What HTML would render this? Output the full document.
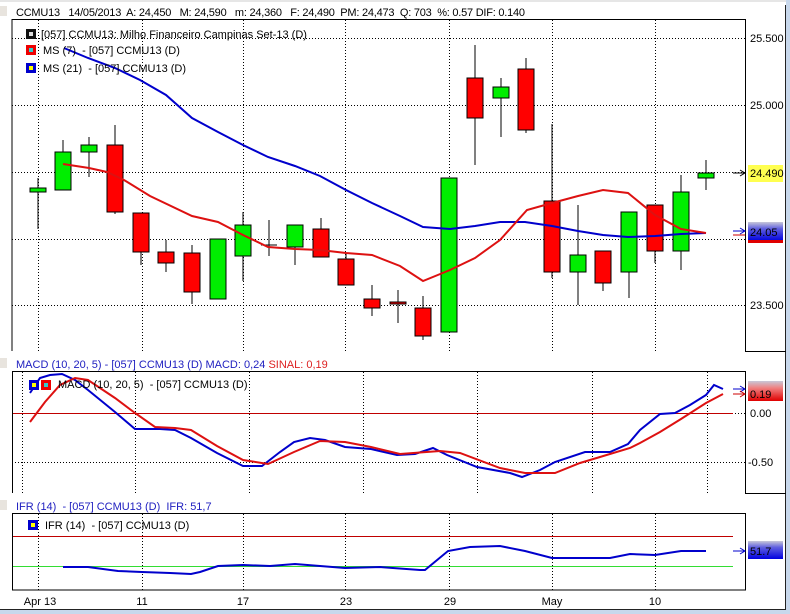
<!DOCTYPE html>
<html><head><meta charset="utf-8"><style>
html,body{margin:0;padding:0;background:#fff;}
svg{display:block;font-family:"Liberation Sans",sans-serif;}
</style></head><body>
<svg width="790" height="614" viewBox="0 0 790 614" xmlns="http://www.w3.org/2000/svg">
<defs>
<linearGradient id="bg" x1="0" y1="0" x2="0" y2="1"><stop offset="0" stop-color="#c8c8d8"/><stop offset="0.35" stop-color="#6060e0"/><stop offset="1" stop-color="#0000e0"/></linearGradient>
<linearGradient id="rg" x1="0" y1="0" x2="0" y2="1"><stop offset="0" stop-color="#c8c8d8"/><stop offset="0.35" stop-color="#f08080"/><stop offset="1" stop-color="#e00000"/></linearGradient>
</defs>
<rect width="790" height="614" fill="#fff"/>
<line x1="0" y1="1" x2="786" y2="1" stroke="#ccc"/>
<rect x="786" y="0" width="4" height="614" fill="#c8d8ec"/>
<line x1="785.5" y1="5" x2="785.5" y2="610" stroke="#222"/>
<rect x="0" y="610" width="790" height="4" fill="#c8d8ec"/>
<line x1="0" y1="609.5" x2="786" y2="609.5" stroke="#222"/>
<rect x="0" y="6" width="7" height="10" fill="#e8e4de"/>
<text x="16" y="16" font-size="11" fill="#000" style="white-space:pre" textLength="509" lengthAdjust="spacing">CCMU13   14/05/2013  A: 24,450   M: 24,590   m: 24,360   F: 24,490  PM: 24,473  Q: 703  %: 0.57 DIF: 0.140</text>

<!-- main panel -->
<g stroke="#000" stroke-dasharray="1,2" stroke-width="1">
<line x1="12" y1="38.5" x2="745" y2="38.5"/><line x1="12" y1="105.5" x2="745" y2="105.5"/><line x1="12" y1="172.5" x2="745" y2="172.5"/><line x1="12" y1="239.5" x2="745" y2="239.5"/><line x1="12" y1="305.5" x2="745" y2="305.5"/>
<line x1="38.5" y1="20" x2="38.5" y2="351"/><line x1="142.5" y1="20" x2="142.5" y2="351"/><line x1="243.5" y1="20" x2="243.5" y2="351"/><line x1="345.5" y1="20" x2="345.5" y2="351"/><line x1="449.5" y1="20" x2="449.5" y2="351"/><line x1="552.5" y1="20" x2="552.5" y2="351"/><line x1="655.5" y1="20" x2="655.5" y2="351"/>
</g>
<polyline fill="none" stroke="#000" points="12,351 12,19.5 745.5,19.5 745.5,351.5 786,351.5"/>
<g font-size="11" fill="#000">
<text x="750" y="42">25.500</text><text x="750" y="109">25.000</text><text x="750" y="309">23.500</text>
</g>
<rect x="748" y="165" width="35" height="17" fill="#ffff50"/>
<text x="750" y="177" font-size="11">24.490</text>
<rect x="748" y="222" width="35" height="19" fill="url(#bg)"/>
<rect x="748" y="240" width="35" height="3" fill="#e00000"/>
<text x="750" y="236" font-size="11" fill="#000">24.05</text>
<g stroke-width="1" fill="none"><path d="M733,173 h12 M740,170 l5,3 l-5,3" stroke="#000"/><path d="M733,231 h12 M740,228 l5,3 l-5,3" stroke="#00c"/><path d="M733,235 h12" stroke="#c00"/></g>

<!-- candles -->
<g stroke="#000" stroke-width="1">
<line x1="38" y1="178" x2="38" y2="229"/><rect x="30" y="188" width="16" height="4" fill="#00ee00"/>
<line x1="63" y1="140" x2="63" y2="190"/><rect x="55" y="152" width="16" height="38" fill="#00ee00"/>
<line x1="89" y1="137" x2="89" y2="177"/><rect x="81" y="145" width="16" height="7" fill="#00ee00"/>
<line x1="115" y1="125" x2="115" y2="214"/><rect x="107" y="145" width="16" height="67" fill="#ff0000"/>
<line x1="141" y1="213" x2="141" y2="265"/><rect x="133" y="213" width="16" height="39" fill="#ff0000"/>
<line x1="166" y1="240" x2="166" y2="272"/><rect x="158" y="252" width="16" height="11" fill="#ff0000"/>
<line x1="192" y1="245" x2="192" y2="304"/><rect x="184" y="253" width="16" height="39" fill="#ff0000"/>
<line x1="218" y1="239" x2="218" y2="299"/><rect x="210" y="239" width="16" height="60" fill="#00ee00"/>
<line x1="243" y1="212" x2="243" y2="281"/><rect x="235" y="225" width="16" height="31" fill="#00ee00"/>
<line x1="269" y1="220" x2="269" y2="256"/><line x1="261" y1="245" x2="277" y2="245"/>
<line x1="295" y1="225" x2="295" y2="265"/><rect x="287" y="225" width="16" height="22" fill="#00ee00"/>
<line x1="321" y1="218" x2="321" y2="257"/><rect x="313" y="229" width="16" height="28" fill="#ff0000"/>
<line x1="346" y1="253" x2="346" y2="285"/><rect x="338" y="259" width="16" height="26" fill="#ff0000"/>
<line x1="372" y1="285" x2="372" y2="316"/><rect x="364" y="299" width="16" height="9" fill="#ff0000"/>
<line x1="398" y1="290" x2="398" y2="323"/><rect x="390" y="302" width="16" height="2" fill="#ff0000"/>
<line x1="423" y1="296" x2="423" y2="340"/><rect x="415" y="308" width="16" height="28" fill="#ff0000"/>
<line x1="449" y1="178" x2="449" y2="332"/><rect x="441" y="178" width="16" height="154" fill="#00ee00"/>
<line x1="475" y1="45" x2="475" y2="165"/><rect x="467" y="78" width="16" height="40" fill="#ff0000"/>
<line x1="501" y1="78" x2="501" y2="137"/><rect x="493" y="87" width="16" height="11" fill="#00ee00"/>
<line x1="526" y1="58" x2="526" y2="133"/><rect x="518" y="69" width="16" height="61" fill="#ff0000"/>
<line x1="552" y1="124" x2="552" y2="278"/><rect x="544" y="201" width="16" height="71" fill="#ff0000"/>
<line x1="578" y1="205" x2="578" y2="305"/><rect x="570" y="255" width="16" height="17" fill="#00ee00"/>
<line x1="603" y1="251" x2="603" y2="291"/><rect x="595" y="251" width="16" height="32" fill="#ff0000"/>
<line x1="629" y1="212" x2="629" y2="298"/><rect x="621" y="212" width="16" height="60" fill="#00ee00"/>
<line x1="655" y1="205" x2="655" y2="263"/><rect x="647" y="205" width="16" height="46" fill="#ff0000"/>
<line x1="681" y1="175" x2="681" y2="270"/><rect x="673" y="192" width="16" height="59" fill="#00ee00"/>
<line x1="706" y1="160" x2="706" y2="190"/><rect x="698" y="173" width="16" height="5" fill="#00ee00"/>
</g>
<polyline fill="none" stroke="#0000cc" stroke-width="2" points="64,48 88,58 115,68 140,80 166,95 192,118 218,132 243,145 268,157 295,166 320,176 346,190 372,203 400,216 423,227 450,229 475,226 500,222 525,222 552,226 578,231 603,235 628,237 655,236 681,234 706,233"/>
<polyline fill="none" stroke="#dd1111" stroke-width="2" points="63,164 89,168 107,172 124,180 150,196 192,216 218,222 243,235 268,247 295,249 320,250 346,253 372,255 400,266 423,281 450,270 475,258 500,240 527,210 552,203 578,196 603,190 628,193 655,215 681,229 706,233"/>

<rect x="26" y="29" width="10" height="10" fill="#111"/><rect x="29" y="32" width="4" height="4" fill="#ddd"/>
<text x="41" y="38" font-size="11" fill="#000">[057] CCMU13: Milho Financeiro Campinas Set-13 (D)</text>
<rect x="26" y="45" width="10" height="10" fill="#e00"/><rect x="29" y="48" width="4" height="4" fill="#3cc"/>
<text x="43" y="54" font-size="11" fill="#000" style="white-space:pre">MS (7)  - [057] CCMU13 (D)</text>
<rect x="26" y="63" width="10" height="10" fill="#00c"/><rect x="29" y="66" width="4" height="4" fill="#ff0"/>
<text x="43" y="72" font-size="11" fill="#000" style="white-space:pre">MS (21)  - [057] CCMU13 (D)</text>

<!-- MACD panel -->
<rect x="0" y="358" width="7" height="10" fill="#e8e4de"/>
<text x="16" y="368" font-size="11" fill="#2020c0">MACD (10, 20, 5)  - [057] CCMU13 (D)  MACD: 0,24   <tspan fill="#dd2222">SINAL: 0,19</tspan></text>
<g stroke="#000" stroke-dasharray="1,2">
<line x1="12" y1="462.5" x2="745" y2="462.5"/>
<line x1="22.5" y1="372" x2="22.5" y2="493"/><line x1="135.5" y1="372" x2="135.5" y2="493"/><line x1="249.5" y1="372" x2="249.5" y2="493"/><line x1="363.5" y1="372" x2="363.5" y2="493"/><line x1="477.5" y1="372" x2="477.5" y2="493"/><line x1="592.5" y1="372" x2="592.5" y2="493"/><line x1="707.5" y1="372" x2="707.5" y2="493"/>
<line x1="735" y1="413.5" x2="745" y2="413.5"/>
</g>
<line x1="12" y1="413.5" x2="733" y2="413.5" stroke="#c00000"/>
<polyline fill="none" stroke="#000" points="12.5,493 12.5,371.5 745.5,371.5 745.5,493.5 786,493.5"/>
<text x="750" y="417" font-size="11">0.00</text><text x="748" y="466" font-size="11">-0.50</text>
<rect x="748" y="381" width="35" height="20" fill="url(#rg)"/>
<text x="750" y="398" font-size="11">0.19</text>
<g fill="none"><path d="M733,389 h12 M740,386 l5,3 l-5,3" stroke="#00c"/><path d="M733,394 h12 M740,391 l5,3 l-5,3" stroke="#c00"/></g>
<polyline fill="none" stroke="#0000cc" stroke-width="2" points="30,393 40,378 50,375 62,374 75,380 88,390 115,412 135,429 160,429 175,430 191,438 217,453 243,466 262,466 280,452 294,442 310,438 325,440 345,447 371,449 397,455 415,454 433,448 447,455 477,467 510,473 522,477 540,470 555,462 585,452 610,452 628,444 640,430 660,414 675,413 690,405 706,395 714,385 723,389"/>
<polyline fill="none" stroke="#dd1111" stroke-width="2" points="30,422 45,402 60,385 75,378 88,380 100,388 115,398 135,413 155,427 175,428 191,430 217,446 243,460 268,464 294,452 320,441 345,442 371,447 400,454 440,451 460,453 500,468 525,473 555,473 580,463 600,457 630,448 640,443 660,432 681,419 706,403 723,394"/>
<rect x="29" y="380" width="10" height="10" fill="#00c"/><rect x="32" y="383" width="4" height="4" fill="#ff0"/>
<rect x="41" y="380" width="10" height="10" fill="#e00"/><rect x="44" y="383" width="4" height="4" fill="#3cc"/>
<text x="58" y="388" font-size="11" fill="#000" style="white-space:pre">MACD (10, 20, 5)  - [057] CCMU13 (D)</text>

<!-- IFR panel -->
<rect x="0" y="500" width="7" height="10" fill="#e8e4de"/>
<text x="16" y="510" font-size="11" fill="#2020c0" style="white-space:pre">IFR (14)  - [057] CCMU13 (D)  IFR: 51,7</text>
<g stroke="#000" stroke-dasharray="1,2">
<line x1="38.5" y1="514" x2="38.5" y2="590"/><line x1="142.5" y1="514" x2="142.5" y2="590"/><line x1="243.5" y1="514" x2="243.5" y2="590"/><line x1="345.5" y1="514" x2="345.5" y2="590"/><line x1="449.5" y1="514" x2="449.5" y2="590"/><line x1="552.5" y1="514" x2="552.5" y2="590"/><line x1="655.5" y1="514" x2="655.5" y2="590"/>
</g>
<line x1="12" y1="536.5" x2="733" y2="536.5" stroke="#c00000"/>
<line x1="12" y1="566.5" x2="733" y2="566.5" stroke="#33dd33"/>
<rect x="12.5" y="513.5" width="733" height="76.5" fill="none" stroke="#000"/>
<polyline fill="none" stroke="#0000cc" stroke-width="2" points="63,567 88,567 118,571 142,572 170,573 191,574 200,572 218,566 243,565 270,566 295,564 320,566 345,568 380,567 420,570 425,570 448,551 470,547 500,546 525,551 552,558 610,558 630,554 655,555 681,551 706,551"/>
<rect x="28" y="520" width="10" height="10" fill="#00c"/><rect x="31" y="523" width="4" height="4" fill="#ff0"/>
<text x="45" y="529" font-size="11" fill="#000" style="white-space:pre">IFR (14)  - [057] CCMU13 (D)</text>
<rect x="748" y="541" width="35" height="18" fill="url(#bg)"/>
<text x="750" y="555" font-size="11">51.7</text>
<path d="M733,551 h12 M740,548 l5,3 l-5,3" stroke="#00c" fill="none"/>

<g font-size="11" fill="#000" text-anchor="middle">
<text x="40" y="605">Apr 13</text><text x="142" y="605">11</text><text x="243" y="605">17</text><text x="346" y="605">23</text><text x="450" y="605">29</text><text x="552" y="605">May</text><text x="655" y="605">10</text>
</g>
</svg>
</body></html>
